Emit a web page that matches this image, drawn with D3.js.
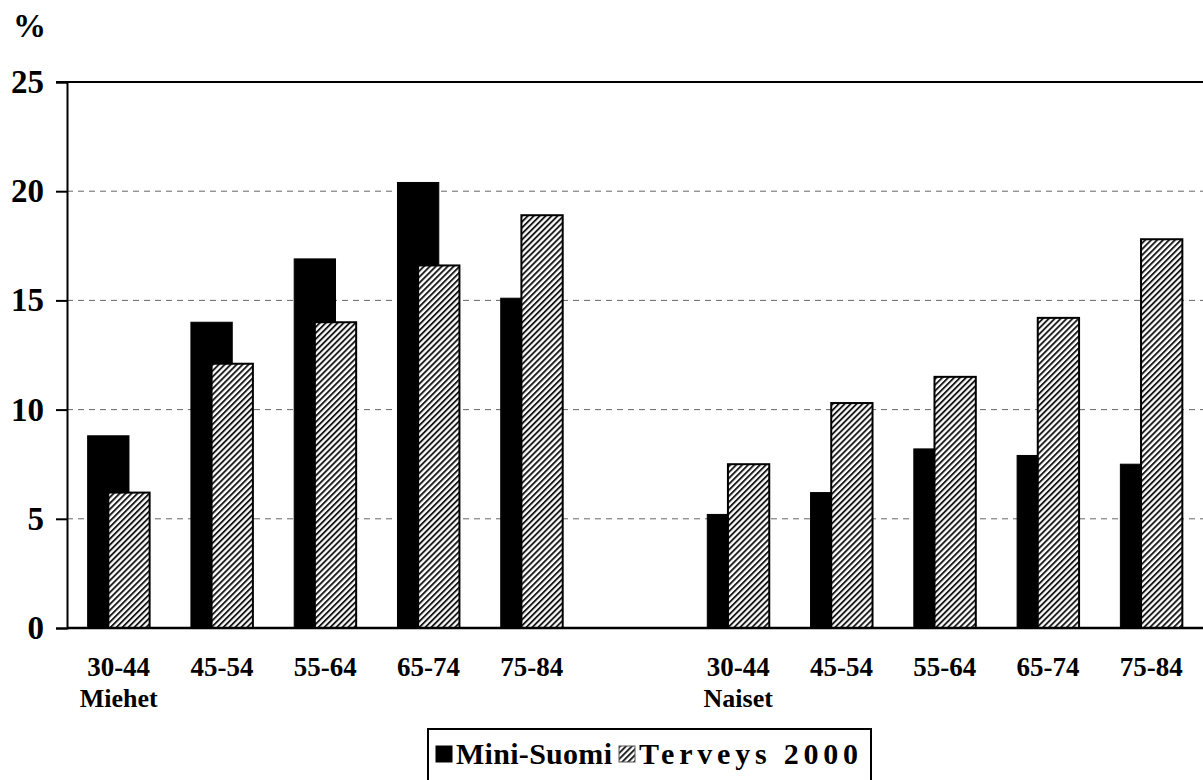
<!DOCTYPE html>
<html>
<head>
<meta charset="utf-8">
<script src="https://cdn.jsdelivr.net/npm/d3@7"></script>
<style>
  body { margin: 0; background: #fff; }
  text { font-family: "Liberation Serif", "Times New Roman", serif; font-weight: bold; fill: #000; }
</style>
</head>
<body>
<svg id="chart" width="1203" height="780"></svg>
<script>
// age groups, with an empty slot between the sexes
const ageGroups = ["30-44", "45-54", "55-64", "65-74", "75-84"];
const slots = ["m0", "m1", "m2", "m3", "m4", "gap", "n0", "n1", "n2", "n3", "n4"];
const sexLabels = ["Miehet", "Naiset"];
const miniSuomi = [8.8, 14.0, 16.9, 20.4, 15.1, null, 5.2, 6.2, 8.2, 7.9, 7.5];
const terveys2000 = [6.2, 12.1, 14.0, 16.6, 18.9, null, 7.5, 10.3, 11.5, 14.2, 17.8];
const yTicks = [0, 5, 10, 15, 20, 25];
const seriesNames = ["Mini-Suomi", "Terveys 2000"];

const width = 1203, height = 780;
const margin = {top: 82, right: 0, bottom: 152, left: 67};

const svg = d3.select("#chart");

// hatch pattern (white ground, dark diagonal stripes)
const defs = svg.append("defs");
const pat = defs.append("pattern")
    .attr("id", "hatch")
    .attr("patternUnits", "userSpaceOnUse")
    .attr("width", 4.2).attr("height", 4.2)
    .attr("patternTransform", "rotate(45)");
pat.append("rect")
    .attr("width", 4.2).attr("height", 4.2)
    .attr("fill", "#fff");
pat.append("rect")
    .attr("x", 0).attr("y", 0)
    .attr("width", 1.9).attr("height", 4.2)
    .attr("fill", "#1a1a1a");

const x = d3.scaleBand()
    .domain(slots)
    .range([margin.left, width - margin.right]);

const y = d3.scaleLinear()
    .domain([0, 25])
    .range([height - margin.bottom, margin.top]);

const barW = x.bandwidth() * 0.4;

// grid lines
svg.append("g")
  .selectAll("line")
  .data(yTicks.filter(d => d > 0 && d < 25))
  .join("line")
    .attr("x1", margin.left).attr("x2", width)
    .attr("y1", d => y(d)).attr("y2", d => y(d))
    .attr("stroke", "#666")
    .attr("stroke-width", 1)
    .attr("stroke-dasharray", "6,5");

// top line at 25
svg.append("line")
    .attr("x1", margin.left - 11).attr("x2", width)
    .attr("y1", y(25)).attr("y2", y(25))
    .attr("stroke", "#000").attr("stroke-width", 2);

// y axis
const yAxis = svg.append("g")
    .attr("transform", `translate(${margin.left},0)`)
    .call(d3.axisLeft(y).tickValues(yTicks).tickSize(11).tickPadding(12));
yAxis.select(".domain").attr("stroke", "#000").attr("stroke-width", 2);
yAxis.selectAll(".tick line").attr("stroke", "#000").attr("stroke-width", 2);
yAxis.selectAll(".tick text")
    .attr("font-family", "Liberation Serif, serif")
    .attr("font-weight", "bold")
    .attr("font-size", 33)
    .attr("fill", "#000");

svg.append("text")
    .attr("x", 13).attr("y", 37)
    .attr("font-size", 33)
    .text("%");

// bars: Mini-Suomi (black) then Terveys 2000 (hatched, overlapping)
const barData = slots.map((s, i) => ({slot: s, a: miniSuomi[i], b: terveys2000[i]}))
    .filter(d => d.a != null);

const bars = svg.append("g");
bars.selectAll("rect.mini")
  .data(barData)
  .join("rect")
    .attr("class", "mini")
    .attr("x", d => x(d.slot) + x.bandwidth() / 2 - barW * 0.75)
    .attr("y", d => y(d.a))
    .attr("width", barW)
    .attr("height", d => y(0) - y(d.a))
    .attr("fill", "#000")
    .attr("stroke", "#000")
    .attr("stroke-width", 1);

bars.selectAll("rect.terv")
  .data(barData)
  .join("rect")
    .attr("class", "terv")
    .attr("x", d => x(d.slot) + x.bandwidth() / 2 - barW * 0.25)
    .attr("y", d => y(d.b))
    .attr("width", barW)
    .attr("height", d => y(0) - y(d.b))
    .attr("fill", "url(#hatch)")
    .attr("stroke", "#000")
    .attr("stroke-width", 2);

// x axis baseline
svg.append("line")
    .attr("x1", margin.left).attr("x2", width)
    .attr("y1", y(0)).attr("y2", y(0))
    .attr("stroke", "#000").attr("stroke-width", 2.5);

// category labels
const labels = svg.append("g");
labels.selectAll("text.age")
  .data(barData)
  .join("text")
    .attr("class", "age")
    .attr("x", d => x(d.slot) + x.bandwidth() / 2)
    .attr("y", 676)
    .attr("text-anchor", "middle")
    .attr("font-size", 27)
    .text((d, i) => ageGroups[i % 5]);

labels.selectAll("text.sex")
  .data(["m0", "n0"])
  .join("text")
    .attr("class", "sex")
    .attr("x", d => x(d) + x.bandwidth() / 2)
    .attr("y", 707)
    .attr("text-anchor", "middle")
    .attr("font-size", 26)
    .text((d, i) => sexLabels[i]);

// legend
const legend = svg.append("g");
legend.append("rect")
    .attr("x", 428).attr("y", 729)
    .attr("width", 443).attr("height", 60)
    .attr("fill", "#fff")
    .attr("stroke", "#000").attr("stroke-width", 2);

const legX = [436, 619];
const legLen = [156, 219];
const legItems = legend.selectAll("g.item")
  .data(seriesNames)
  .join("g")
    .attr("class", "item")
    .attr("transform", (d, i) => `translate(${legX[i]},746)`);

legItems.append("rect")
    .attr("width", 16).attr("height", 16)
    .attr("fill", (d, i) => i === 0 ? "#000" : "url(#hatch)")
    .attr("stroke", (d, i) => i === 0 ? "#000" : "#555")
    .attr("stroke-width", 1);

legItems.append("text")
    .attr("x", 20).attr("y", 18)
    .attr("font-size", 30)
    .attr("textLength", (d, i) => legLen[i])
    .attr("lengthAdjust", "spacing")
    .text(d => d);
</script>
</body>
</html>
